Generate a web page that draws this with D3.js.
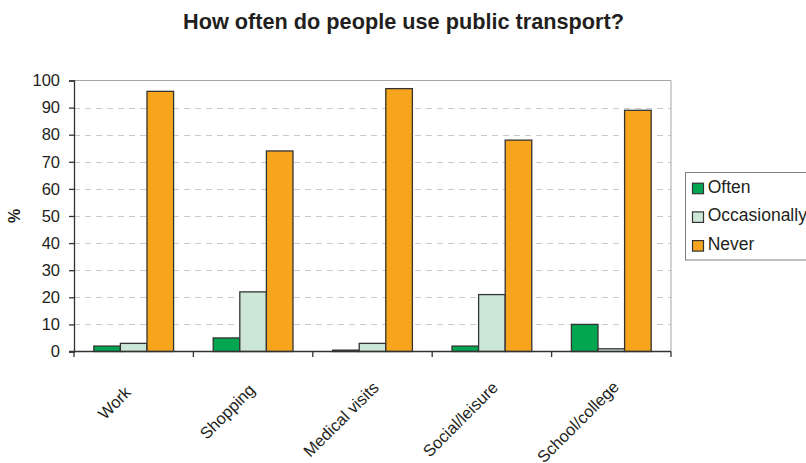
<!DOCTYPE html>
<html>
<head>
<meta charset="utf-8">
<script src="https://cdn.jsdelivr.net/npm/d3@7"></script>
<style>
  html, body { margin: 0; padding: 0; background: #fff; }
  svg { display: block; font-family: "Liberation Sans", Arial, sans-serif; }
</style>
</head>
<body>
<svg id="chart" width="806" height="463"></svg>
<script>
const title = "How often do people use public transport?";
const categories = ["Work", "Shopping", "Medical visits", "Social/leisure", "School/college"];
const seriesNames = ["Often", "Occasionally", "Never"];
const often = [2, 5, 0.5, 2, 10];
const occasionally = [3, 22, 3, 21, 1];
const never = [96, 74, 97, 78, 89];
const yTicks = [0, 10, 20, 30, 40, 50, 60, 70, 80, 90, 100];
const yLabel = "%";
const colors = ["#00a650", "#cde7d6", "#f7a51c"];

const seriesValues = [often, occasionally, never];

const svg = d3.select("#chart");
const textColor = "#231f20";

const plot = { left: 74, right: 671, top: 80.5, bottom: 351.5 };

const x = d3.scaleBand().domain(categories).range([plot.left, plot.right]).padding(0);
const xInner = d3.scaleBand().domain(seriesNames).range([0, x.bandwidth()]).paddingInner(0).paddingOuter(0.745);
const y = d3.scaleLinear().domain([0, 100]).range([plot.bottom, plot.top]);

// Title
svg.append("text")
  .attr("x", 403.5).attr("y", 29)
  .attr("text-anchor", "middle")
  .attr("font-size", "21.7px").attr("font-weight", "bold")
  .attr("fill", textColor)
  .text(title);

// Gridlines (dashed)
svg.append("g").selectAll("line")
  .data(yTicks.filter(t => t > 0 && t < 100))
  .join("line")
  .attr("x1", plot.left).attr("x2", plot.right)
  .attr("y1", d => Math.round(y(d)) + 0.5).attr("y2", d => Math.round(y(d)) + 0.5)
  .attr("stroke", "#c9c9c9").attr("stroke-width", 1)
  .attr("stroke-dasharray", "6,5");

// Top and right border
svg.append("line")
  .attr("x1", plot.left).attr("x2", plot.right)
  .attr("y1", y(100)).attr("y2", y(100))
  .attr("stroke", "#a6a6a6").attr("stroke-width", 1);
svg.append("line")
  .attr("x1", plot.right).attr("x2", plot.right)
  .attr("y1", y(100)).attr("y2", y(0))
  .attr("stroke", "#a6a6a6").attr("stroke-width", 1);

// Bars
const groups = svg.append("g").selectAll("g")
  .data(categories)
  .join("g")
  .attr("transform", d => `translate(${x(d)},0)`);

groups.selectAll("rect")
  .data((d, i) => seriesNames.map((s, j) => ({ s, j, v: seriesValues[j][i] })))
  .join("rect")
  .attr("x", d => xInner(d.s))
  .attr("y", d => y(d.v))
  .attr("width", xInner.bandwidth())
  .attr("height", d => y(0) - y(d.v))
  .attr("fill", d => colors[d.j])
  .attr("stroke", "#333")
  .attr("stroke-width", 1.3);

// Y axis
const yAxis = d3.axisLeft(y).tickValues(yTicks).tickSize(5).tickPadding(9).tickFormat(d3.format("d"));
const gy = svg.append("g").attr("transform", `translate(${plot.left},0)`).call(yAxis);
gy.select(".domain").attr("stroke", "#333").attr("stroke-width", 1.3);
gy.selectAll(".tick line").attr("stroke", "#333").attr("stroke-width", 1.3);
gy.selectAll(".tick text")
  .attr("font-size", "16.5px")
  .attr("fill", textColor)
  .attr("font-family", "Liberation Sans, Arial, sans-serif");

// X axis (ticks at category boundaries)
const gx = svg.append("g");
gx.append("line")
  .attr("x1", plot.left - 5).attr("x2", plot.right)
  .attr("y1", y(0)).attr("y2", y(0))
  .attr("stroke", "#333").attr("stroke-width", 1.3);
const boundaries = categories.map(c => x(c)).concat([x(categories[categories.length - 1]) + x.bandwidth()]);
gx.selectAll("line.tk")
  .data(boundaries)
  .join("line")
  .attr("class", "tk")
  .attr("x1", d => d).attr("x2", d => d)
  .attr("y1", y(0)).attr("y2", y(0) + 5.5)
  .attr("stroke", "#333").attr("stroke-width", 1.3);

// Category labels rotated
const catLabels = gx.selectAll("text")
  .data(categories)
  .join("text")
  .attr("text-anchor", "end")
  .attr("font-size", "16.5px")
  .attr("fill", textColor)
  .text(d => d);
catLabels.each(function(d) {
  const L = this.getComputedTextLength();
  const ex = x(d) + x.bandwidth() / 2 - 7.5 + 0.15 * L;
  const ey = 396.5 - 0.08 * L;
  d3.select(this).attr("transform", `translate(${ex},${ey}) rotate(-45)`);
});

// Y label
svg.append("text")
  .attr("transform", `translate(20,${(plot.top + plot.bottom) / 2}) rotate(-90)`)
  .attr("text-anchor", "middle")
  .attr("font-size", "16px").attr("font-weight", "bold")
  .attr("fill", textColor)
  .text(yLabel);

// Legend
const legend = svg.append("g");
legend.append("rect")
  .attr("x", 685.5).attr("y", 172.5)
  .attr("width", 160).attr("height", 87.5)
  .attr("fill", "#fff").attr("stroke", "#7f7f7f").attr("stroke-width", 1);
const items = legend.selectAll("g.item")
  .data(seriesNames)
  .join("g")
  .attr("class", "item")
  .attr("transform", (d, i) => `translate(0,${192.7 + i * 28.7})`);
items.append("rect")
  .attr("x", 692.5).attr("y", -9.5)
  .attr("width", 11).attr("height", 10.5)
  .attr("fill", (d, i) => colors[i])
  .attr("stroke", "#333").attr("stroke-width", 1.2);
items.append("text")
  .attr("x", 707.7).attr("y", 0)
  .attr("font-size", "17.5px")
  .attr("fill", textColor)
  .text(d => d);
</script>
</body>
</html>
